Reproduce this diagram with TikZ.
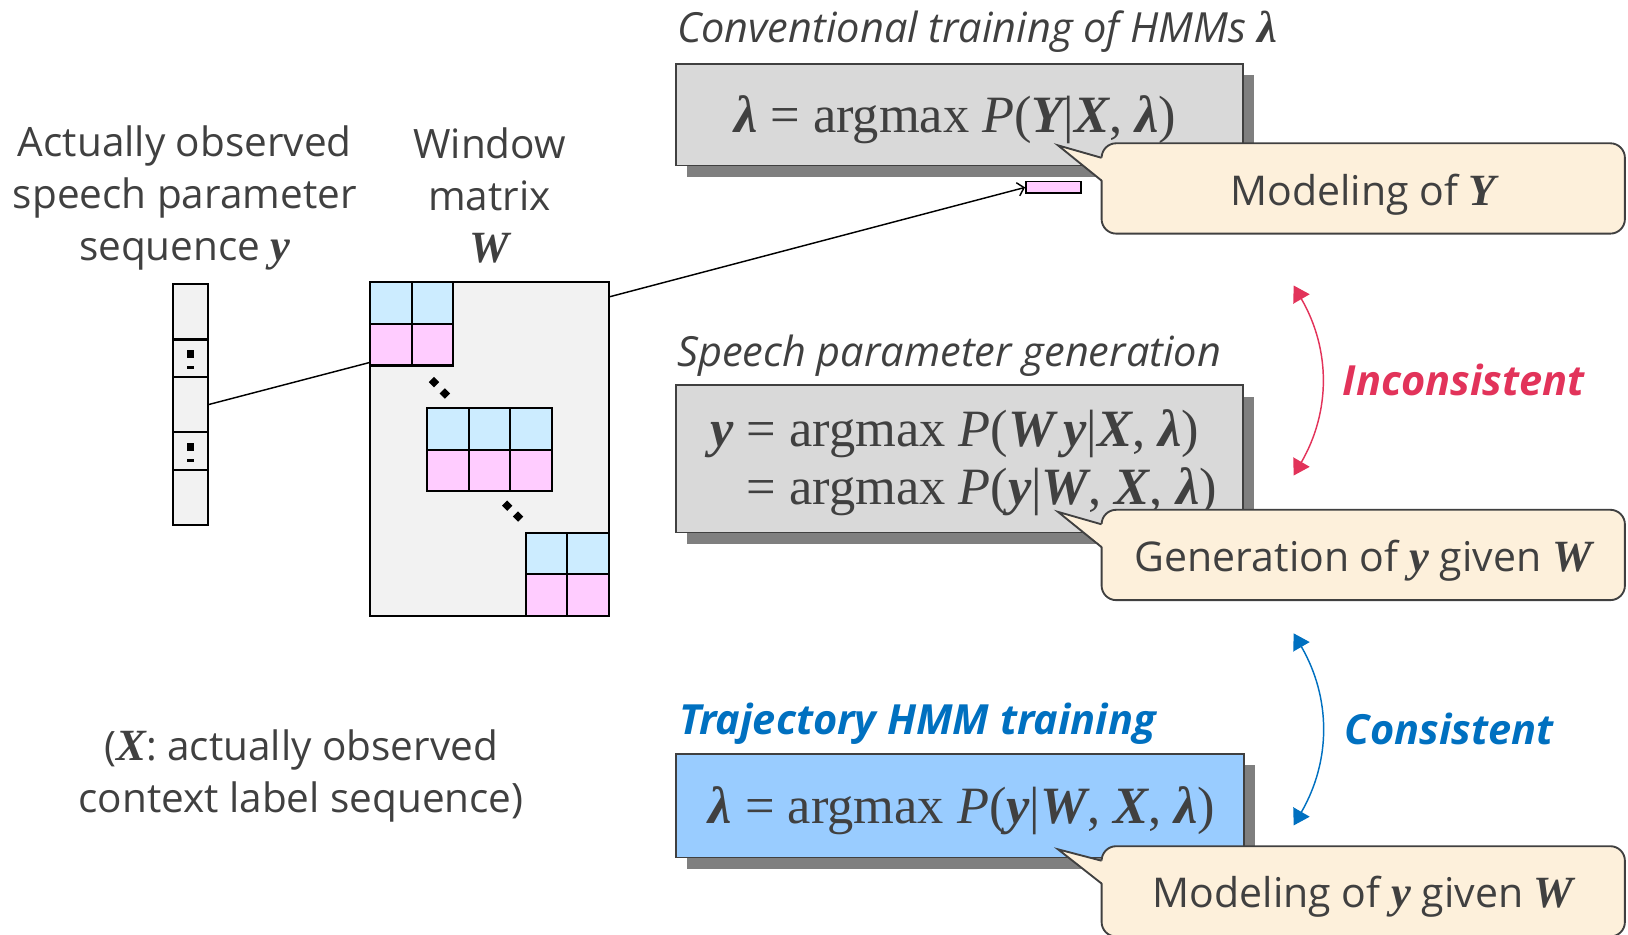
\documentclass[tikz,border=0pt]{standalone}
\usepackage{fontspec}
\setmainfont{Open Sans}
\newfontfamily\fml{Liberation Serif}
\usepackage{xcolor}
\usepackage{tikz}
\usetikzlibrary{arrows.meta,positioning,calc,shadows}

\definecolor{txtgray}{HTML}{404040}
\definecolor{boxgray}{HTML}{D9D9D9}
\definecolor{shadegray}{HTML}{7F7F7F}
\definecolor{callfill}{HTML}{FDF0DB}
\definecolor{matgray}{HTML}{F2F2F2}
\definecolor{cellblue}{HTML}{CCECFF}
\definecolor{cellpink}{HTML}{FFCCFF}
\definecolor{trajblue}{HTML}{99CCFF}
\definecolor{incred}{HTML}{E2335A}
\definecolor{conblue}{HTML}{0070C0}

\newcommand{\bv}[1]{{\fml\bfseries\itshape #1}}
\newcommand{\bs}[1]{{\fml\bfseries\itshape\fontsize{43}{50}\selectfont #1}}
\newcommand{\lbl}{\fontsize{39}{50}\selectfont}
\newcommand{\ttl}{\fontsize{40}{50}\selectfont}
\newcommand{\eqf}{\fontsize{50.5}{55}\selectfont\fml}

\begin{document}
\begin{tikzpicture}[x=1pt,y=-1pt,
  txt/.style={font=\lbl, text=txtgray, inner sep=0pt, align=center},
  eqbox/.style={draw=txtgray, line width=1.6pt, minimum width=546pt,
    general shadow={fill=shadegray, shadow xshift=11pt, shadow yshift=-11pt}},
  eqtxt/.style={font=\eqf, text=txtgray, inner sep=0pt},
  callbox/.style={draw=txtgray, line width=1.8pt, fill=callfill, rounded corners=14pt,
    minimum width=504pt, minimum height=87pt, outer sep=0pt, text height=32pt, text depth=0pt,
    font=\fontsize{39.5}{50}\selectfont, text=txtgray},
  callline/.style={draw=txtgray, line width=1.8pt},
  cell/.style={draw, line width=2pt, minimum size=40pt, inner sep=0pt, outer sep=0pt},
  vcell/.style={draw, line width=2pt, fill=matgray, minimum width=34pt, inner sep=0pt, outer sep=0pt},
  pinkbar/.style={draw, line width=1.5pt, fill=cellpink, minimum width=53pt, minimum height=11pt, inner sep=0pt},
  link/.style={line width=1.4pt},
  dbl/.style={>={Triangle[width=18pt,length=15pt]}, <->, line width=1.4pt}]
\useasboundingbox (0,0) rectangle (1568,900);

% labels on the left
\node[txt] (labY) at (178,191) {Actually observed\\speech parameter\\sequence \bs{y}};
\node[txt] (labW) at (471.5,188) {Window\\matrix\\\bs{W}};
\node[txt] (labX) at (290,747) {(\bs{X}: actually observed\\context label sequence)};

% observed vector y
\node[vcell, minimum height=53.5pt] (v1) at (183.5,300.25) {};
\node[vcell, minimum height=36pt, below=0pt of v1] (v2) {};
\node[vcell, minimum height=53.5pt, below=0pt of v2] (v3) {};
\node[vcell, minimum height=36pt, below=0pt of v3] (v4) {};
\node[vcell, minimum height=53.5pt, below=0pt of v4] (v5) {};
\foreach \c in {v2,v4} {
  \fill ($(\c.center)+(-3.5,-7.5)$) rectangle ++(7,7);
  \fill ($(\c.center)+(-3.5,7.5)$) rectangle ++(7,2.5);
}

% window matrix W
\node[draw, line width=2pt, fill=matgray, minimum width=230pt, minimum height=321pt,
  inner sep=0pt, outer sep=0pt] (wmat) at (471.5,432.5) {};
\foreach \x [count=\i] in {376.5,416.5} {
  \node[cell, fill=cellblue] (ab\i) at (\x,292) {};
  \node[cell, fill=cellpink] (ap\i) at (\x,332) {};
}
\foreach \x [count=\i] in {431.5,471.5,511.5} {
  \node[cell, fill=cellblue] (bb\i) at (\x,413) {};
  \node[cell, fill=cellpink] (bp\i) at (\x,453) {};
}
\foreach \x [count=\i] in {526.5,566.5} {
  \node[cell, fill=cellblue] (cb\i) at (\x,533) {};
  \node[cell, fill=cellpink] (cp\i) at (\x,573) {};
}
\foreach \p in {(418,368),(428.5,379),(488.5,487),(499,497.5)}
  \fill \p +(0,-5) -- +(5,0) -- +(0,5) -- +(-5,0) -- cycle;

\draw[link] (v3.east) -- ($(ap1.south west)+(0,-3)$);

% conventional training
\node[txt, anchor=west, font=\ttl\itshape] (tA) at (652,30) {Conventional training of HMMs \bs{λ}};
\node[eqbox, fill=boxgray, minimum height=98pt] (eqA) at (924,110.5) {};
\node[eqtxt] (fA) at ($(eqA)+(-4,5)$) {\bv{λ} = argmax \textit{P}(\bv{Y}|\bv{X}, \bv{λ})};
\node[pinkbar] (pinkA) at (1014.5,180.5) {};
\draw[link, -{Straight Barb[length=6pt,width=13pt]}] ($(wmat.north east)+(0,14)$) -- (pinkA.west);
\node[callbox] (calA) at (1313,181.5) {Modeling of \bs{Y}};
\coordinate (tipA) at (1019,140);
\fill[callfill] ($(calA.north west)+(1.5,14)$) -- (tipA) -- ($(calA.north west)+(1.5,36)$) -- cycle;
\draw[callline] ($(calA.north west)+(0,14)$) -- (tipA) -- ($(calA.north west)+(0,36)$);

% parameter generation
\node[txt, anchor=west, font=\ttl\itshape] (tB) at (652,343) {Speech parameter generation};
\node[eqbox, fill=boxgray, minimum height=142pt] (eqB) at (924,442) {};
\node[eqtxt] (fB) at ($(eqB)+(4,5)$)
  {\begin{tabular}{@{}r@{ }l@{}}
   \bv{y} & = argmax \textit{P}(\bv{W}\,\bv{y}|\bv{X}, \bv{λ})\\
          & = argmax \textit{P}(\bv{y}|\bv{W}, \bv{X}, \bv{λ})
   \end{tabular}};
\node[callbox] (calB) at (1313,534.5) {Generation of \bs{y} given \bs{W}};
\coordinate (tipB) at (1019,493);
\fill[callfill] ($(calB.north west)+(1.5,14)$) -- (tipB) -- ($(calB.north west)+(1.5,36)$) -- cycle;
\draw[callline] ($(calB.north west)+(0,14)$) -- (tipB) -- ($(calB.north west)+(0,36)$);

% trajectory HMM training
\node[txt, anchor=west, font=\ttl\bfseries\itshape, text=conblue] (tC) at (654,697) {Trajectory HMM training};
\node[eqbox, fill=trajblue, minimum height=100pt, minimum width=547pt] (eqC) at (924.5,776) {};
\node[eqtxt] (fC) at ($(eqC)+(2,5)$) {\bv{λ} = argmax \textit{P}(\bv{y}|\bv{W}, \bv{X}, \bv{λ})};
\node[callbox] (calC) at (1313,858.5) {Modeling of \bs{y} given \bs{W}};
\coordinate (tipC) at (1019,818);
\fill[callfill] ($(calC.north west)+(1.5,14)$) -- (tipC) -- ($(calC.north west)+(1.5,36)$) -- cycle;
\draw[callline] ($(calC.north west)+(0,14)$) -- (tipC) -- ($(calC.north west)+(0,36)$);

% consistency arrows
\coordinate (incTop) at (1246,275);
\coordinate (incBot) at (1246,458);
\draw[dbl, incred] (incTop) to[bend left=30] (incBot);
\node[txt, anchor=west, font=\ttl\bfseries\itshape, text=incred] (tInc) at (1293,366) {Inconsistent};
\coordinate (conTop) at (1246,610);
\coordinate (conBot) at (1246,795);
\draw[dbl, conblue] (conTop) to[bend left=30] (conBot);
\node[txt, anchor=west, font=\ttl\bfseries\itshape, text=conblue] (tCon) at (1295,702) {Consistent};
\end{tikzpicture}
\end{document}
